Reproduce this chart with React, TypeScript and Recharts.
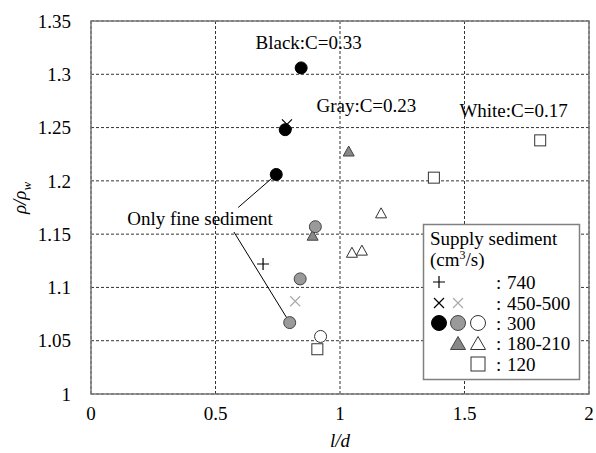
import React from "react";
import {
  CartesianGrid,
  Customized,
  ReferenceArea,
  ReferenceLine,
  Scatter,
  ScatterChart,
  XAxis,
  YAxis,
} from "recharts";

const FONT = '"Liberation Serif", "Times New Roman", serif';

const xTicks = [0, 0.5, 1, 1.5, 2];
const yTicks = [1, 1.05, 1.1, 1.15, 1.2, 1.25, 1.3, 1.35];

// runs by marker: x = l/d, y = rho/rho_w
const blackCircles = [
  { x: 0.844, y: 1.306 },
  { x: 0.78, y: 1.248 },
  { x: 0.744, y: 1.206 },
];
const grayCircles = [
  { x: 0.901, y: 1.157 },
  { x: 0.84, y: 1.108 },
  { x: 0.798, y: 1.067 },
];
const whiteCircles = [{ x: 0.922, y: 1.054 }];
const grayTriangles = [
  { x: 1.035, y: 1.228 },
  { x: 0.89, y: 1.149 },
];
const whiteTriangles = [
  { x: 1.165, y: 1.17 },
  { x: 1.048, y: 1.133 },
  { x: 1.088, y: 1.135 },
];
const whiteSquares = [
  { x: 1.804, y: 1.238 },
  { x: 1.377, y: 1.203 },
  { x: 0.909, y: 1.042 },
];
const blackCrosses = [{ x: 0.787, y: 1.253 }];
const grayCrosses = [{ x: 0.82, y: 1.087 }];
const plusMarks = [{ x: 0.691, y: 1.122 }];

// text notes placed in data coordinates
const notes = [
  { x: 0.874, y: 1.33, text: "Black:C=0.33" },
  { x: 1.106, y: 1.271, text: "Gray:C=0.23" },
  { x: 1.697, y: 1.266, text: "White:C=0.17" },
  { x: 0.438, y: 1.165, text: "Only fine sediment" },
];
const fineLeaders = [
  [{ x: 0.591, y: 1.175 }, { x: 0.744, y: 1.206 }],
  [{ x: 0.574, y: 1.152 }, { x: 0.798, y: 1.067 }],
];

const legendRows = ["740", "450-500", "300", "180-210", "120"];

const GRAY = "#9a9a9a";
const EDGE = "#444";

const circle = (fill: string, stroke: string, r = 6) => (p: any) => (
  <circle cx={p.cx} cy={p.cy} r={r} fill={fill} stroke={stroke} strokeWidth={1} />
);

const triangle = (fill: string, stroke: string, w = 11, h = 10) => (p: any) => (
  <polygon
    points={`${p.cx},${p.cy - h / 2} ${p.cx - w / 2},${p.cy + h / 2} ${p.cx + w / 2},${p.cy + h / 2}`}
    fill={fill}
    stroke={stroke}
    strokeWidth={1}
  />
);

const square = (s = 11) => (p: any) => (
  <rect x={p.cx - s / 2} y={p.cy - s / 2} width={s} height={s} fill="#fff" stroke="#333" strokeWidth={1} />
);

const cross = (stroke: string, s = 5) => (p: any) => (
  <path
    d={`M${p.cx - s},${p.cy - s}L${p.cx + s},${p.cy + s}M${p.cx - s},${p.cy + s}L${p.cx + s},${p.cy - s}`}
    stroke={stroke}
    strokeWidth={1.2}
  />
);

const plus = (s = 6) => (p: any) => (
  <path d={`M${p.cx - s},${p.cy}L${p.cx + s},${p.cy}M${p.cx},${p.cy - s}L${p.cx},${p.cy + s}`} stroke="#000" strokeWidth={1.2} />
);

const noteText = (p: any) => (
  <text
    x={p.cx}
    y={p.cy}
    textAnchor="middle"
    dominantBaseline="central"
    fontFamily={FONT}
    fontSize={19}
    fill="#000"
  >
    {p.payload.text}
  </text>
);

function SedimentLegend() {
  const rowY = [282, 303, 323, 343, 364];
  const c1 = 439;
  const c2 = 458;
  const c3 = 478;
  return (
    <g fontFamily={FONT} fontSize={19} fill="#000">
      <rect x={423.5} y={224.5} width={156} height={155} fill="#fff" stroke="#808080" strokeWidth={1.5} />
      <text x={430} y={245}>Supply sediment</text>
      <text x={430} y={266}>
        (cm<tspan dy={-7} fontSize={12}>3</tspan>
        <tspan dy={7}>/s)</tspan>
      </text>
      {plus(6)({ cx: c1, cy: rowY[0] })}
      {cross("#000")({ cx: c1, cy: rowY[1] })}
      {cross("#aaa")({ cx: c2, cy: rowY[1] })}
      {circle("#000", "#000", 7.5)({ cx: c1, cy: rowY[2] })}
      {circle(GRAY, EDGE, 7.5)({ cx: c2, cy: rowY[2] })}
      {circle("#fff", "#333", 7.5)({ cx: c3, cy: rowY[2] })}
      {triangle("#888", EDGE, 15, 13)({ cx: c2, cy: rowY[3] })}
      {triangle("#fff", "#333", 15, 13)({ cx: c3, cy: rowY[3] })}
      {square(14)({ cx: c3, cy: rowY[4] })}
      {legendRows.map((label, i) => (
        <text key={label} x={496} y={rowY[i] + 7}>
          :<tspan x={507}>{label}</tspan>
        </text>
      ))}
    </g>
  );
}

export default function App() {
  return (
    <div style={{ position: "absolute", left: 0, top: 0, background: "#fff" }}>
      <ScatterChart width={596} height={453} margin={{ top: 21, right: 7, bottom: 0, left: 0 }}>
        <CartesianGrid stroke="#333" strokeDasharray="3 2" />
        <XAxis
          type="number"
          dataKey="x"
          domain={[0, 2]}
          ticks={xTicks}
          height={59}
          axisLine={false}
          tickLine={false}
          tickSize={0}
          tickMargin={13}
          tick={{ fill: "#000", fontSize: 19, fontFamily: FONT }}
          label={{
            content: ({ viewBox }: any) => (
              <text
                x={viewBox.x + viewBox.width / 2}
                y={447}
                textAnchor="middle"
                fontFamily={FONT}
                fontStyle="italic"
                fontSize={19}
                fill="#000"
              >
                l/d
              </text>
            ),
          }}
        />
        <YAxis
          type="number"
          dataKey="y"
          domain={[1, 1.35]}
          ticks={yTicks}
          width={91}
          axisLine={false}
          tickLine={false}
          tickSize={0}
          tickMargin={20}
          tick={{ fill: "#000", fontSize: 19, fontFamily: FONT }}
          label={{
            content: () => (
              <text
                transform="translate(26,198) rotate(-90)"
                textAnchor="middle"
                fontFamily={FONT}
                fontStyle="italic"
                fontSize={19}
                fill="#000"
              >
                ρ/ρ<tspan dy={5} fontSize={13}>w</tspan>
              </text>
            ),
          }}
        />
        <ReferenceArea x1={0} x2={2} y1={1} y2={1.35} fill="none" stroke="#7a7a7a" strokeWidth={1.5} />
        {fineLeaders.map((seg, i) => (
          <ReferenceLine key={i} segment={seg} stroke="#000" strokeWidth={1} />
        ))}
        <Scatter data={plusMarks} shape={plus()} isAnimationActive={false} />
        <Scatter data={grayCrosses} shape={cross("#aaa")} isAnimationActive={false} />
        <Scatter data={grayTriangles} shape={triangle("#888", EDGE)} isAnimationActive={false} />
        <Scatter data={whiteTriangles} shape={triangle("#fff", "#333")} isAnimationActive={false} />
        <Scatter data={blackCircles} shape={circle("#000", "#000")} isAnimationActive={false} />
        <Scatter data={grayCircles} shape={circle(GRAY, EDGE)} isAnimationActive={false} />
        <Scatter data={whiteCircles} shape={circle("#fff", "#333")} isAnimationActive={false} />
        <Scatter data={whiteSquares} shape={square()} isAnimationActive={false} />
        <Scatter data={blackCrosses} shape={cross("#000")} isAnimationActive={false} />
        <Scatter data={notes} shape={noteText} isAnimationActive={false} />
        <Customized component={<SedimentLegend />} />
      </ScatterChart>
    </div>
  );
}
